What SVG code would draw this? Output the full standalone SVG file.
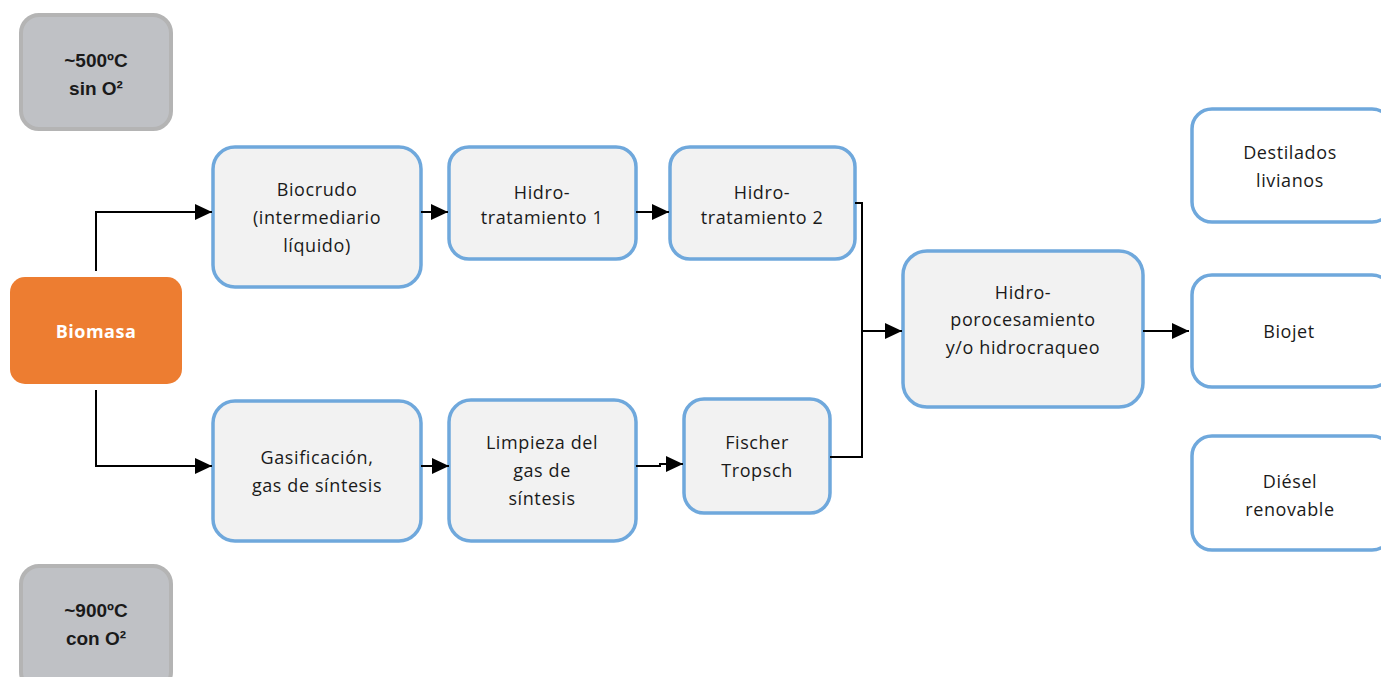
<svg xmlns="http://www.w3.org/2000/svg" width="1381" height="677" viewBox="0 0 1381 677">
<style>
.gray rect{fill:#bfc1c5;stroke:#b4b4b4;stroke-width:4}
.gray text{font-family:"Liberation Sans",Arial,sans-serif;font-weight:bold;font-size:19px;fill:#1a1a1a;text-anchor:middle}
.box rect{fill:#f2f2f2;stroke:#6fa8dc;stroke-width:3.5}
.out rect{fill:#ffffff;stroke:#6fa8dc;stroke-width:3.5}
.box text,.out text{font-family:"Open Sans","Noto Sans",sans-serif;font-size:18px;letter-spacing:0.6px;fill:#1a1a1a;text-anchor:middle}
.conn path{fill:none;stroke:#000;stroke-width:2}
</style>
<defs>
<marker id="arr" markerUnits="userSpaceOnUse" markerWidth="18" markerHeight="16" refX="17" refY="8" orient="auto">
<path d="M0,0 L17,8 L0,16 Z" fill="#000"/>
</marker>
</defs>
<rect width="1381" height="677" fill="#fff"/>
<g id="t500" class="gray">
<rect x="21" y="15" width="150" height="114" rx="18"/>
<text x="96" y="67">~500ºC</text>
<text x="96" y="95">sin O²</text>
</g>
<g id="t900" class="gray">
<rect x="21" y="566" width="150" height="124" rx="18"/>
<text x="96" y="617">~900ºC</text>
<text x="96" y="645">con O²</text>
</g>
<g id="biomasa">
<rect x="10" y="277" width="172" height="107" rx="15" fill="#ed7d31"/>
<text x="96" y="338" font-family="'Open Sans','Noto Sans',sans-serif" font-weight="bold" font-size="18" letter-spacing="0.5" fill="#fff" text-anchor="middle">Biomasa</text>
</g>
<g id="biocrudo" class="box">
<rect x="213" y="147" width="208" height="140" rx="22"/>
<text x="317" y="196">Biocrudo</text>
<text x="317" y="224">(intermediario</text>
<text x="317" y="252">líquido)</text>
</g>
<g id="ht1" class="box">
<rect x="449" y="147" width="187" height="112" rx="20"/>
<text x="542" y="199">Hidro-</text>
<text x="542" y="224">tratamiento 1</text>
</g>
<g id="ht2" class="box">
<rect x="670" y="147" width="185" height="112" rx="20"/>
<text x="762" y="199">Hidro-</text>
<text x="762" y="224">tratamiento 2</text>
</g>
<g id="gasif" class="box">
<rect x="213" y="401" width="208" height="140" rx="22"/>
<text x="317" y="464">Gasificación,</text>
<text x="317" y="492">gas de síntesis</text>
</g>
<g id="limpieza" class="box">
<rect x="449" y="400" width="187" height="141" rx="22"/>
<text x="542" y="449">Limpieza del</text>
<text x="542" y="477">gas de</text>
<text x="542" y="505">síntesis</text>
</g>
<g id="fischer" class="box">
<rect x="684" y="399" width="146" height="114" rx="20"/>
<text x="757" y="449">Fischer</text>
<text x="757" y="477">Tropsch</text>
</g>
<g id="hidroproc" class="box">
<rect x="903" y="251" width="240" height="156" rx="24"/>
<text x="1023" y="299">Hidro-</text>
<text x="1023" y="326">porocesamiento</text>
<text x="1023" y="354">y/o hidrocraqueo</text>
</g>
<g id="destilados" class="out">
<rect x="1192" y="109" width="200" height="113" rx="20"/>
<text x="1290" y="159">Destilados</text>
<text x="1290" y="187">livianos</text>
</g>
<g id="biojet" class="out">
<rect x="1192" y="275" width="200" height="112" rx="20"/>
<text x="1289" y="338" font-size="15" letter-spacing="0">Biojet</text>
</g>
<g id="diesel" class="out">
<rect x="1192" y="436" width="200" height="114" rx="20"/>
<text x="1290" y="488">Diésel</text>
<text x="1290" y="516">renovable</text>
</g>
<g id="connectors" class="conn">
<path d="M96,271 V212 H212" marker-end="url(#arr)"/>
<path d="M96,390 V466 H212" marker-end="url(#arr)"/>
<path d="M421,212 H448" marker-end="url(#arr)"/>
<path d="M636,212 H669" marker-end="url(#arr)"/>
<path d="M421,466 H449" marker-end="url(#arr)"/>
<path d="M636,466 H660 V464 H683" marker-end="url(#arr)"/>
<path d="M855,203 H862 V457 H830"/>
<path d="M862,331 H902" marker-end="url(#arr)"/>
<path d="M1143,331 H1189" marker-end="url(#arr)"/>
</g>
</svg>
